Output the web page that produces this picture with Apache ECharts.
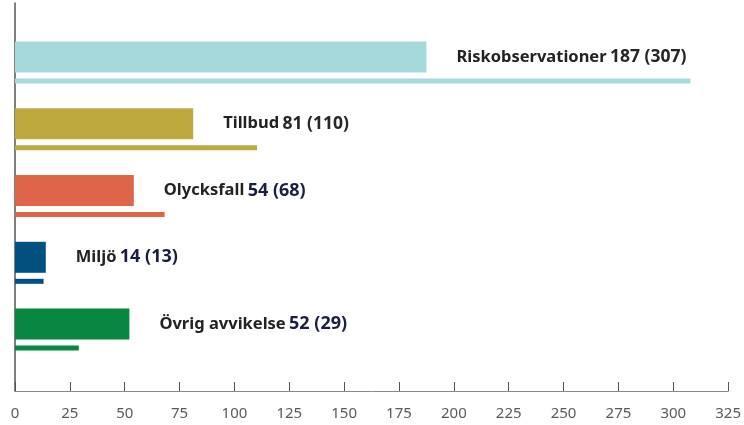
<!DOCTYPE html>
<html><head><meta charset="utf-8">
<script src="https://cdn.jsdelivr.net/npm/echarts@6/dist/echarts.min.js"></script>
<style>html,body{margin:0;padding:0;background:#fff}#c{width:744px;height:425px}</style>
</head><body><div id="c"></div>
<script>
const categories = ['Riskobservationer', 'Tillbud', 'Olycksfall', 'Miljö', 'Övrig avvikelse'];
const currentYear = [187, 81, 54, 14, 52];
const previousYear = [307, 110, 68, 13, 29];
const barColors = ['#a5d9dc', '#bea93f', '#df654a', '#005082', '#07873f'];
const valueTextStyle = ['d', 'd', 'v', 'v', 'v'];
const axisMin = 0, axisMax = 325, axisStep = 25;

const FONT = '"Noto Sans", sans-serif';
const chart = echarts.init(document.getElementById('c'), null, {renderer: 'canvas'});

const thickData = currentYear.map((v, i) => ({value: v, itemStyle: {color: barColors[i]}}));
const thinData = previousYear.map((v, i) => ({value: v, itemStyle: {color: barColors[i]}}));

chart.setOption({
  animation: false,
  backgroundColor: '#fff',
  grid: [
    {left: 15, right: 14, top: 3, bottom: 34},
    {left: 15, right: 14, top: 29, height: 334}
  ],
  xAxis: [
    {
      gridIndex: 0, type: 'value', min: axisMin, max: axisMax, interval: axisStep,
      axisLine: {show: true, lineStyle: {color: '#8a8a8a', width: 1}},
      axisTick: {show: true, inside: true, length: 9, lineStyle: {color: '#555', width: 1}},
      axisLabel: {color: '#5a5a5a', fontSize: 15, fontFamily: FONT, margin: 15},
      splitLine: {show: false}
    },
    {
      gridIndex: 1, type: 'value', min: axisMin, max: axisMax, show: false
    }
  ],
  yAxis: [
    {
      gridIndex: 0, type: 'value', min: 0, max: 1,
      axisLine: {show: true, lineStyle: {color: '#555', width: 1.5}},
      axisTick: {show: false}, axisLabel: {show: false}, splitLine: {show: false}
    },
    {
      gridIndex: 1, type: 'category', data: categories, inverse: true, show: false
    }
  ],
  series: [
    {
      type: 'bar', name: 'current', xAxisIndex: 1, yAxisIndex: 1,
      data: thickData, barWidth: 31, barGap: '19.4%',
      label: {
        show: true, position: 'right', distance: 30,
        formatter: p => {
          const i = p.dataIndex;
          return `{n|${categories[i]}} {${valueTextStyle[i]}|${currentYear[i]} (${previousYear[i]})}`;
        },
        rich: {
          n: {fontFamily: FONT, fontWeight: 'bold', fontSize: 16.5, color: '#222'},
          v: {fontFamily: FONT, fontWeight: 'bold', fontSize: 18, color: '#1a1f40'},
          d: {fontFamily: FONT, fontWeight: 'bold', fontSize: 17.5, color: '#262626'}
        }
      }
    },
    {
      type: 'bar', name: 'previous', xAxisIndex: 1, yAxisIndex: 1,
      data: thinData, barWidth: 5, barGap: '19.4%'
    }
  ]
});
</script></body></html>
